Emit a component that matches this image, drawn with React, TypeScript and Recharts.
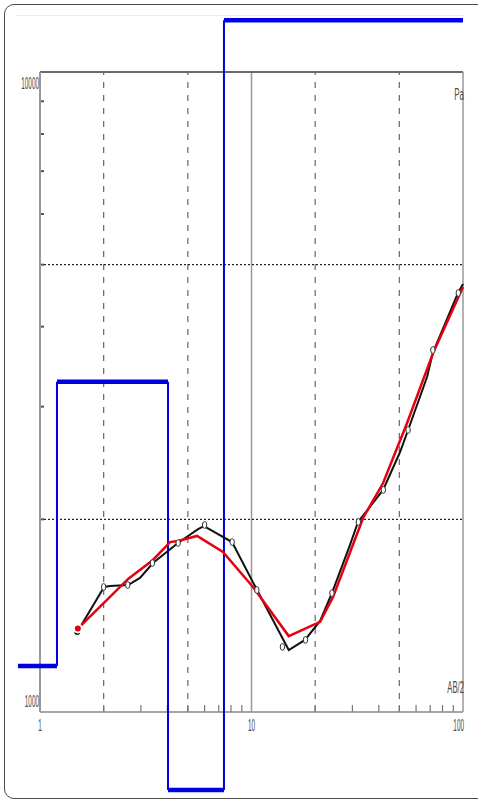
import React from 'react';
import { ComposedChart, Line, Scatter, XAxis, YAxis, ReferenceLine, ReferenceDot } from 'recharts';

// Observed apparent resistivity (markers)
const abHalf = [1.5, 2.0, 2.6, 3.4, 4.5, 6.0, 8.1, 10.6, 14, 18, 24, 32, 42, 55, 72, 95];
const rhoObserved = [1329, 1568, 1579, 1709, 1837, 1960, 1843, 1551, 1264, 1296, 1534, 1981, 2223, 2758, 3678, 4516];

// Black field curve
const fieldX = [1.5, 2.01, 2.14, 2.61, 2.97, 3.42, 4.49, 5.59, 5.96, 8.09, 10.62, 15.0, 17.9, 21.1, 24.0, 29.2, 31.9, 41.9, 50.4, 55.0, 67.6, 72.2, 94.7, 100];
const fieldY = [1334, 1568, 1573, 1579, 1620, 1709, 1837, 1931, 1952, 1843, 1551, 1250, 1296, 1388, 1534, 1823, 1981, 2223, 2548, 2758, 3338, 3652, 4516, 4665];

// Red model (fitted) curve
const fitX = [1.51, 2.61, 3.42, 4.12, 4.49, 5.53, 7.33, 10.16, 15.0, 21.1, 24.3, 33.7, 41.9, 54.4, 72.2, 100];
const fitY = [1350, 1614, 1728, 1843, 1850, 1884, 1778, 1568, 1314, 1383, 1513, 2010, 2279, 2829, 3639, 4614];

// Blue layered model
const layerBounds = [0.787, 1.203, 4.03, 7.41, 100];
const layerRho = [1180, 3280, 755, 12050];

// Axes
const xFrame = [1, 100];
const yFrame = [1000, 10000];
const xDashed = [2, 5, 20, 50];
const xSolid = [10];
const yDotted = [2000, 5000];
const xMinorTicks = [2, 3, 4, 5, 6, 7, 8, 9, 20, 30, 40, 50, 60, 70, 80, 90];
const yMinorTicks = [2000, 3000, 4000, 5000, 6000, 7000, 8000, 9000];
const xTickValues = [1, 10, 100];
const xTickLabels = ['1', '10', '100'];
const yTickValues = [10000, 1000];
const yTickLabels = ['10000', '1000'];
const yUnit = 'Pa';
const xUnit = 'AB/2';

const W = 478;
const H = 802;
const PX_LEFT = 40;
const PX_DEC_X = 211.5;
const PX_BOTTOM = 712;
const PX_DEC_Y = 640;
const xDomain = [10 ** (-PX_LEFT / PX_DEC_X), 10 ** ((W - PX_LEFT) / PX_DEC_X)];
const yDomain = [1000 * 10 ** (-(H - PX_BOTTOM) / PX_DEC_Y), 1000 * 10 ** (PX_BOTTOM / PX_DEC_Y)];

const fieldData = fieldX.map((x, i) => ({ x, y: fieldY[i] }));
const fitData = fitX.map((x, i) => ({ x, y: fitY[i] }));
const obsData = abHalf.map((x, i) => ({ x, y: rhoObserved[i] }));

const blueH = layerRho.map((r, i) => [{ x: layerBounds[i], y: r }, { x: layerBounds[i + 1], y: r }]);
const blueV = layerRho.slice(0, -1).map((r, i) => [{ x: layerBounds[i + 1], y: r }, { x: layerBounds[i + 1], y: layerRho[i + 1] }]);

const tickLenY = 1000 * 10 ** (7 / PX_DEC_Y);
const tickLenX = 10 ** (4 / PX_DEC_X);

const labelFont = 'Liberation Sans, Arial, sans-serif';

const squishText = (txt: string, dx: number, dy: number, anchor: string, sx = 0.4, size = 16) => (p: any) => (
  <text
    transform={`translate(${p.cx + dx},${p.cy + dy}) scale(${sx},1)`}
    textAnchor={anchor}
    fontSize={size}
    fontFamily={labelFont}
    fill="#4a4a4a"
  >
    {txt}
  </text>
);

const Marker = (p: any) => (
  <ellipse cx={p.cx} cy={p.cy} rx={2.2} ry={3.4} fill="#fff" stroke="#333" strokeWidth={1} />
);

export default function App() {
  return (
    <div style={{ position: 'absolute', left: 0, top: 0, width: W, height: H, overflow: 'hidden', background: '#fff' }}>
      <div
        style={{
          position: 'absolute',
          left: 4,
          top: 4,
          width: 500,
          height: 795,
          border: '1.5px solid #4a4a4a',
          borderRadius: 10,
          boxSizing: 'border-box',
        }}
      />
      <div style={{ position: 'absolute', left: 17, top: 15, width: 446, height: 1, background: '#ececec' }} />
      <div style={{ position: 'absolute', left: 0, top: 0 }}>
        <ComposedChart width={W} height={H} margin={{ top: 0, right: 0, bottom: 0, left: 0 }}>
          <XAxis dataKey="x" type="number" scale="log" domain={xDomain} allowDataOverflow hide />
          <YAxis dataKey="y" type="number" scale="log" domain={yDomain} allowDataOverflow hide />

          {xDashed.map((v) => (
            <ReferenceLine key={`xd${v}`} segment={[{ x: v, y: yFrame[0] }, { x: v, y: yFrame[1] }]} stroke="#666" strokeWidth={1.2} strokeDasharray="6 7" />
          ))}
          {xSolid.map((v) => (
            <ReferenceLine key={`xs${v}`} segment={[{ x: v, y: yFrame[0] }, { x: v, y: yFrame[1] }]} stroke="#999" strokeWidth={1.5} />
          ))}
          {yDotted.map((v) => (
            <ReferenceLine key={`yd${v}`} segment={[{ x: xFrame[0], y: v }, { x: xFrame[1], y: v }]} stroke="#222" strokeWidth={1.3} strokeDasharray="2 2" />
          ))}
          {xMinorTicks.map((v) => (
            <ReferenceLine key={`xt${v}`} segment={[{ x: v, y: yFrame[0] }, { x: v, y: tickLenY }]} stroke="#777" strokeWidth={1.2} />
          ))}
          {yMinorTicks.map((v) => (
            <ReferenceLine key={`yt${v}`} segment={[{ x: xFrame[0], y: v }, { x: tickLenX, y: v }]} stroke="#555" strokeWidth={2} />
          ))}

          {/* frame */}
          <ReferenceLine segment={[{ x: xFrame[0], y: yFrame[1] }, { x: xFrame[1], y: yFrame[1] }]} stroke="#6a6a6a" strokeWidth={2} />
          <ReferenceLine segment={[{ x: xFrame[0], y: yFrame[0] }, { x: xFrame[1], y: yFrame[0] }]} stroke="#888" strokeWidth={1.5} />
          <ReferenceLine segment={[{ x: xFrame[0], y: yFrame[0] }, { x: xFrame[0], y: yFrame[1] }]} stroke="#999" strokeWidth={2} />
          <ReferenceLine segment={[{ x: xFrame[1], y: yFrame[0] }, { x: xFrame[1], y: yFrame[1] }]} stroke="#999" strokeWidth={1.5} />

          {/* tick labels */}
          {xTickValues.map((v, i) => (
            <ReferenceDot
              key={`xl${v}`}
              x={v}
              y={yFrame[0]}
              r={1}
              shape={squishText(xTickLabels[i], i === xTickValues.length - 1 ? 1 : 0, 19, i === xTickValues.length - 1 ? 'end' : 'middle')}
            />
          ))}
          {yTickValues.map((v, i) => (
            <ReferenceDot
              key={`yl${v}`}
              x={xFrame[0]}
              y={v}
              r={1}
              shape={squishText(yTickLabels[i], -1, i === 0 ? 17 : -5, 'end')}
            />
          ))}
          <ReferenceDot x={xFrame[1]} y={yFrame[1]} r={1} shape={squishText(yUnit, 1, 28, 'end', 0.5)} />
          <ReferenceDot x={xFrame[1]} y={yFrame[0]} r={1} shape={squishText(xUnit, 1, -19, 'end', 0.48)} />

          {/* blue layered model */}
          {blueV.map((seg, i) => (
            <ReferenceLine key={`bv${i}`} segment={seg} stroke="#0000e0" strokeWidth={2} ifOverflow="visible" />
          ))}
          {blueH.map((seg, i) => (
            <ReferenceLine key={`bh${i}`} segment={seg} stroke="#0000e0" strokeWidth={4.5} ifOverflow="visible" />
          ))}

          <Line data={fieldData} dataKey="y" type="linear" stroke="#111" strokeWidth={2} dot={false} isAnimationActive={false} />
          <Line data={fitData} dataKey="y" type="linear" stroke="#e60012" strokeWidth={2.5} dot={false} isAnimationActive={false} />
          <Scatter data={obsData} dataKey="y" shape={Marker} isAnimationActive={false} />
        </ComposedChart>
      </div>
    </div>
  );
}
